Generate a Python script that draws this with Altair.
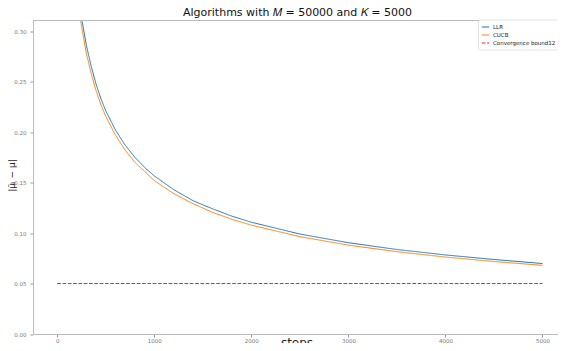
import altair as alt
import pandas as pd

steps = [200, 225, 250, 300, 350, 400, 450, 500, 600, 700, 800, 900, 1000,
         1200, 1400, 1600, 1800, 2000, 2500, 3000, 3500, 4000, 4500, 5000]
llr = [0.350, 0.330, 0.313, 0.286, 0.265, 0.2475, 0.233, 0.221, 0.202, 0.187,
       0.175, 0.165, 0.1565, 0.143, 0.132, 0.124, 0.1167, 0.1107, 0.099,
       0.0904, 0.0837, 0.0783, 0.0738, 0.0698]
cucb = [0.341, 0.321, 0.305, 0.278, 0.258, 0.241, 0.227, 0.2155, 0.197, 0.182,
        0.170, 0.161, 0.152, 0.139, 0.129, 0.1205, 0.1136, 0.1078, 0.0964,
        0.088, 0.0815, 0.0762, 0.0718, 0.0680]
bound_steps = [0, 5000]
bound_vals = [0.05, 0.05]

series = ["LLR", "CUCB", "Convergence bound12"]
colors = ["#1f77b4", "#ff7f0e", "#e8262a"]
dashes = [[1, 0], [1, 0], [3.7, 1.6]]
x_ticks = [0, 1000, 2000, 3000, 4000, 5000]
y_ticks = [0, 0.05, 0.1, 0.15, 0.2, 0.25, 0.3]
title_text = "Algorithms with 𝑀 = 50000 and 𝐾 = 5000"

rows = []
for s, v in zip(steps, llr):
    rows.append({"step": s, "value": v, "series": "LLR"})
for s, v in zip(steps, cucb):
    rows.append({"step": s, "value": v, "series": "CUCB"})
for s, v in zip(bound_steps, bound_vals):
    rows.append({"step": s, "value": v, "series": "Convergence bound12"})
df = pd.DataFrame(rows)

W, H = 525, 313.5

xscale = alt.Scale(domain=[-250, 5160], nice=False, zero=False)
yscale = alt.Scale(domain=[0, 0.3105], nice=False)

lines = alt.Chart(df).mark_line(clip=True, strokeWidth=1).encode(
    x=alt.X("step:Q", scale=xscale,
            axis=alt.Axis(values=x_ticks, format="d",
                          title="steps", grid=False, labelFontSize=5.5,
                          labelColor="#777", tickColor="#999", tickSize=3,
                          domainColor="#bbb", labelPadding=1.5,
                          titleFontSize=12, titleFontWeight="normal",
                          titleColor="#222", titleBaseline="top", titleY=3.5,
                          titleX=W / 2 + 1,
                          titleFont="DejaVu Sans", labelFont="DejaVu Sans")),
    y=alt.Y("value:Q", scale=yscale,
            axis=alt.Axis(values=y_ticks, format=".2f",
                          title="|μ̂ᵢ − μ|", grid=False, labelFontSize=5.5,
                          labelColor="#777", tickColor="#999", tickSize=3,
                          domainColor="#bbb", labelPadding=4,
                          titleFontSize=9, titleFontWeight="normal",
                          titleColor="#222", titleAngle=270,
                          titleBaseline="middle", titleAlign="center",
                          titleX=-22, titleY=154.5,
                          titleFont="DejaVu Sans", labelFont="DejaVu Sans")),
    color=alt.Color("series:N", scale=alt.Scale(domain=series, range=colors),
                    legend=alt.Legend(title=None, orient="none", legendX=445,
                                      legendY=-1, symbolType="stroke",
                                      symbolSize=55, symbolStrokeWidth=1.1,
                                      labelFontSize=5.5, labelFont="DejaVu Sans",
                                      labelColor="#222", rowPadding=0,
                                      fillColor="white", strokeColor="#e4e4e4",
                                      cornerRadius=2, padding=3, labelOffset=3)),
    strokeDash=alt.StrokeDash("series:N", scale=alt.Scale(domain=series, range=dashes),
                              legend=None),
    detail="series:N",
)

top = alt.Chart(pd.DataFrame({"a": [0]})).mark_rule(color="#bbb", strokeWidth=1).encode(
    x=alt.value(0), x2=alt.value(W), y=alt.value(0)
)

title = alt.Chart(pd.DataFrame({"t": [title_text]})).mark_text(
    fontSize=11, font="DejaVu Sans", color="#111", align="center",
    baseline="alphabetic"
).encode(x=alt.value(264.5), y=alt.value(-4.8), text="t:N")

chart = alt.layer(lines, top, title).properties(
    width=W, height=H,
    autosize=alt.AutoSizeParams(type="none"),
    padding={"left": 25, "top": 12.5, "right": 0, "bottom": 9},
).configure_view(stroke=None)

chart.save("out.html", embed_options={"renderer": "svg", "actions": False})
